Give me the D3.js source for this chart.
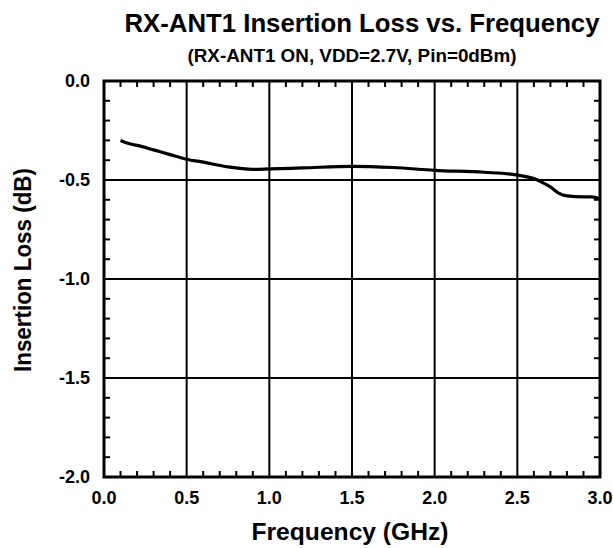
<!DOCTYPE html>
<html><head><meta charset="utf-8">
<script src="https://cdn.jsdelivr.net/npm/d3@7"></script>
<style>body{margin:0;background:#fff}svg{display:block}text{font-family:"Liberation Sans",Arial,sans-serif;font-weight:bold;fill:#000}</style>
</head><body>
<script>
const freqGHz = [0.1,0.15,0.22,0.3,0.4,0.5,0.6,0.75,0.9,1.0,1.2,1.5,1.75,2.0,2.3,2.5,2.6,2.65,2.7,2.75,2.8,2.9,2.95,3.0];
const lossDb = [-0.30,-0.316,-0.329,-0.348,-0.372,-0.395,-0.410,-0.434,-0.446,-0.444,-0.439,-0.431,-0.437,-0.451,-0.461,-0.475,-0.493,-0.512,-0.535,-0.566,-0.58,-0.585,-0.585,-0.596];
const xTicks = [0.0,0.5,1.0,1.5,2.0,2.5,3.0];
const yTicks = [0.0,-0.5,-1.0,-1.5,-2.0];
const titleText = "RX-ANT1 Insertion Loss vs. Frequency";
const subtitleText = "(RX-ANT1 ON, VDD=2.7V, Pin=0dBm)";
const xTitle = "Frequency (GHz)";
const yTitle = "Insertion Loss (dB)";

const W=613,H=548, L=104, R=600, T=81, B=477;
const svg=d3.select("body").append("svg").attr("width",W).attr("height",H);
const x=d3.scaleLinear().domain([0,3]).range([L,R]);
const y=d3.scaleLinear().domain([-2,0]).range([B,T]);

// grid
svg.append("g").selectAll("line").data(xTicks.slice(1,-1)).join("line")
  .attr("x1",d=>x(d)).attr("x2",d=>x(d)).attr("y1",T).attr("y2",B).attr("stroke","#000").attr("stroke-width",2);
svg.append("g").selectAll("line").data(yTicks.slice(1,-1)).join("line")
  .attr("y1",d=>y(d)).attr("y2",d=>y(d)).attr("x1",L).attr("x2",R).attr("stroke","#000").attr("stroke-width",2);

// minor ticks
const xMinor=d3.range(1,30).map(i=>i/10).filter(v=>Math.abs(v*2-Math.round(v*2))>1e-6);
const yMinor=d3.range(1,20).map(i=>-i/10).filter(v=>Math.abs(v*2-Math.round(v*2))>1e-6);
const tl=6;
const tg=svg.append("g").attr("stroke","#000").attr("stroke-width",2);
xMinor.forEach(v=>{
  tg.append("line").attr("x1",x(v)).attr("x2",x(v)).attr("y1",T).attr("y2",T+tl);
  tg.append("line").attr("x1",x(v)).attr("x2",x(v)).attr("y1",B).attr("y2",B-tl);
});
yMinor.forEach(v=>{
  tg.append("line").attr("y1",y(v)).attr("y2",y(v)).attr("x1",L).attr("x2",L+tl);
  tg.append("line").attr("y1",y(v)).attr("y2",y(v)).attr("x1",R).attr("x2",R-tl);
});

// frame
svg.append("rect").attr("x",L).attr("y",T).attr("width",R-L).attr("height",B-T)
  .attr("fill","none").attr("stroke","#000").attr("stroke-width",3);

// curve
svg.append("path").datum(freqGHz.map((f,i)=>[f,lossDb[i]]))
  .attr("d",d3.line().x(d=>x(d[0])).y(d=>y(d[1])).curve(d3.curveMonotoneX))
  .attr("fill","none").attr("stroke","#000").attr("stroke-width",3.2).attr("stroke-linejoin","round");

// tick labels
svg.append("g").selectAll("text").data(xTicks).join("text")
  .attr("x",d=>x(d)).attr("y",504).attr("text-anchor","middle").attr("font-size",18)
  .text(d=>d.toFixed(1));
svg.append("g").selectAll("text").data(yTicks).join("text")
  .attr("x",90).attr("y",d=>y(d)+6).attr("text-anchor","end").attr("font-size",18)
  .text(d=>d.toFixed(1));

// titles
svg.append("text").attr("x",362).attr("y",32).attr("text-anchor","middle").attr("font-size",25)
  .attr("textLength",475).attr("lengthAdjust","spacingAndGlyphs").text(titleText);
svg.append("text").attr("x",352).attr("y",62).attr("text-anchor","middle").attr("font-size",18)
  .attr("textLength",329).attr("lengthAdjust","spacingAndGlyphs").text(subtitleText);
svg.append("text").attr("x",350).attr("y",540).attr("text-anchor","middle").attr("font-size",24)
  .attr("textLength",197).attr("lengthAdjust","spacingAndGlyphs").text(xTitle);
svg.append("text").attr("transform",`translate(31,270) rotate(-90)`).attr("text-anchor","middle").attr("font-size",23)
  .attr("textLength",204).attr("lengthAdjust","spacingAndGlyphs").text(yTitle);
</script>
</body></html>
